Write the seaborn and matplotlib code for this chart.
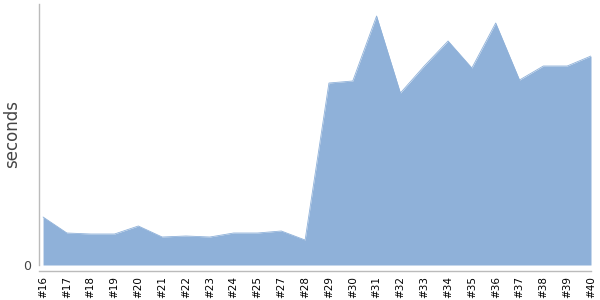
import matplotlib
matplotlib.use("Agg")
import matplotlib.pyplot as plt
import seaborn as sns
import numpy as np
import pandas as pd

builds = ["#16", "#17", "#18", "#19", "#20", "#21", "#22", "#23", "#24", "#25", "#27", "#28",
          "#29", "#30", "#31", "#32", "#33", "#34", "#35", "#36", "#37", "#38", "#39", "#40"]
seconds = [48, 32, 31, 31, 39, 28, 29, 28, 32, 32, 34, 25,
           182, 184, 249, 172, 199, 224, 197, 242, 185, 199, 199, 209]

sns.set_style("white")
plt.rcParams['font.family'] = ['DejaVu Sans']

df = pd.DataFrame({"build": builds, "seconds": seconds})
df["pos"] = np.arange(len(df))

fig = plt.figure(figsize=(6, 3), dpi=100)
ax = fig.add_axes([39/600, 35/300, (591-39)/600, (265-4)/300])

color = "#8FB1D9"
sns.lineplot(data=df, x="pos", y="seconds", ax=ax, color=color, linewidth=0.6)
ax.fill_between(df["pos"], 0, df["seconds"], color=color, linewidth=0)

ax.set_xlim(-0.17, len(df) - 1)
ax.set_ylim(0, 261)
ax.set_xticks(df["pos"].tolist())
ax.set_xticklabels(builds)
ax.set_yticks([0])
ax.set_yticklabels(["0"])
ax.set_xlabel("")
ax.set_ylabel("seconds", fontsize=12, color="#444444")

for s in ["top", "right"]:
    ax.spines[s].set_visible(False)
ax.spines["left"].set_color("#BBBBBB")
ax.spines["bottom"].set_color("#BBBBBB")
ax.spines["bottom"].set_position(("outward", 4))
ax.spines["left"].set_linewidth(1)
ax.spines["bottom"].set_linewidth(1)
ax.tick_params(axis="x", length=2.5, color="#BBBBBB", pad=1.5, labelsize=7.5, labelcolor="#000000")
ax.tick_params(axis="y", length=0, pad=6, labelsize=9, labelcolor="#444444")
for lbl in ax.get_xticklabels():
    lbl.set_rotation(90)
    lbl.set_rotation_mode("default")
    lbl.set_va("top")
    lbl.set_ha("center")
ax.yaxis.set_label_coords(-(39 - 21.5) / 552, 0.5)

fig.savefig("out.png", dpi=100)
